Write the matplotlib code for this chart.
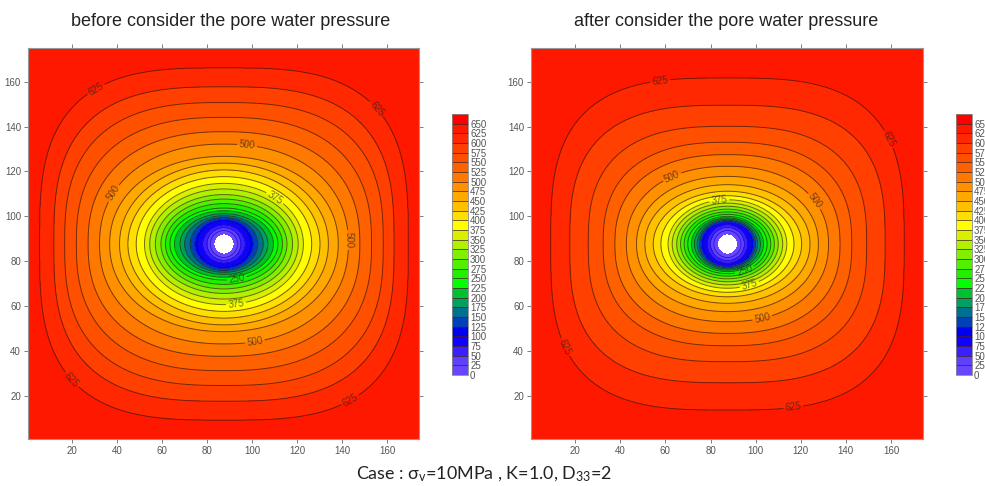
import numpy as np
import matplotlib
matplotlib.use('Agg')
import matplotlib.pyplot as plt

plt.rcParams['font.family'] = ['Liberation Sans', 'DejaVu Sans']

# contour levels and how far each one reaches from the hole (x / y semi axes)
levels = [0, 25, 50, 75, 100, 125, 150, 175, 200, 225, 250, 275, 300, 325, 350, 375,
          400, 425, 450, 475, 500, 525, 550, 575, 600, 625, 650]
before_ax = [4.5, 6, 7.5, 9.5, 11.3, 13, 15, 17.5, 19.5, 22, 24, 26, 28, 30.5, 33, 35.3,
             39, 42.7, 46.4, 50.8, 55.3, 60.4, 65.6, 70.8, 75.6, 81.9]
before_by = [4.5, 6, 7.3, 8.5, 10, 11, 11.8, 12.6, 13.5, 14.8, 16, 18, 20, 22, 24.5, 27,
             30, 33, 36, 39, 44.5, 50, 56.4, 63, 70, 78.4]
after_ax = [4.5, 6, 7.5, 9, 10.5, 11.7, 12.4, 13.4, 14.6, 16, 17.6, 19.2, 20.8, 22.5, 24.5, 26.3,
            29.5, 32.9, 36.6, 40.3, 44.8, 49.9, 55.1, 61.7, 69.9, 78.3]
after_by = [4.5, 6, 7.4, 8.6, 9.5, 10, 10.5, 11, 11.6, 12.3, 13.2, 14.3, 15.5, 16.8, 18.2, 19.7,
            21.5, 23.5, 26.4, 30.1, 34.6, 39.8, 45.3, 52.4, 61.8, 73.9]
# squareness of each contour, round near the hole and boxy near the edge
squareness = [2, 2, 2, 2, 2, 2, 2, 2, 2, 2, 2, 2, 2, 2, 2, 2,
              2, 2, 2.05, 2.12, 2.2, 2.35, 2.5, 2.7, 2.9, 3.1]

band_colors = ['#6a45ff', '#6040ff', '#3a20ff', '#1000ff', '#0000ee', '#0040b8', '#007090',
               '#00a060', '#00c030', '#00ff00', '#20f000', '#50f000', '#80f000', '#b0f000',
               '#d8f000', '#ffff00', '#ffdf00', '#ffc000', '#ffa800', '#ff9000', '#ff7800',
               '#ff6000', '#ff5000', '#ff4000', '#ff2800', '#ff1800']
top_color = '#ff0000'

center_x = 87.5
center_y = 87.7
ticks = [20, 40, 60, 80, 100, 120, 140, 160]

before_labels = {625: [(30.2, 157.3), (156, 148.4), (17.8, 25.3), (144.4, 17.3)],
                 500: [(97.8, 131.9), (38.2, 110.5), (143.1, 89.5), (101.3, 43.6)],
                 375: [(110.2, 108.3), (92.9, 61)],
                 250: [(93.3, 71.7)]}
after_labels = {625: [(57.7, 159), (156.9, 133), (16.9, 42.7), (116.6, 16)],
                500: [(63, 117.6), (125, 106), (102.9, 54.8)],
                375: [(83.8, 107.8), (97.5, 68.6)],
                250: [(95.3, 75.3)]}


def make_field(X, Y, ax_list, by_list):
    # g < 1 inside a contour, g > 1 outside it
    dx = np.abs(X - center_x)
    dy = np.abs(Y - center_y)
    g = np.array([(dx / a) ** n + (dy / b) ** n
                  for a, b, n in zip(ax_list, by_list, squareness)])
    lev = np.array(levels[:len(ax_list)], dtype=float)
    idx = (g >= 1).sum(axis=0)  # how many contours the point is outside of
    val = np.zeros_like(X)

    inner = idx == 0
    val[inner] = -25 * (1 - g[0][inner])
    outer = idx == len(lev)
    val[outer] = np.minimum(640, 625 + 15 * (g[-1][outer] - 1))

    mid = ~inner & ~outer
    i, j = np.nonzero(mid)
    k = idx[mid]
    g_low = np.log(g[k - 1, i, j])
    g_high = np.log(g[k, i, j])
    val[mid] = lev[k - 1] + 25 * g_low / (g_low - g_high)
    return val


def draw_panel(fig, pos, ax_list, by_list, labels, title, title_x):
    ax = fig.add_axes(pos)
    x = np.linspace(0.4, 174.2, 800)
    y = np.linspace(0.85, 175, 800)
    X, Y = np.meshgrid(x, y)
    Z = make_field(X, Y, ax_list, by_list)
    cf = ax.contourf(X, Y, Z, levels=levels, colors=band_colors + [top_color], extend='max')
    # lines inside the blue part hardly show
    low = [v for v in levels[:-1] if v < 150 and v > 0]
    plain = [v for v in levels[:-1] if v >= 150 and v not in labels]
    ax.contour(X, Y, Z, levels=low, colors='#2010c8', linewidths=0.5)
    line_style = dict(colors='#2a1a10', linewidths=0.7, alpha=0.65)
    ax.contour(X, Y, Z, levels=plain, **line_style)
    # clabel with a level subset breaks on manual spots, so each labelled level gets its own set
    for lev, where in labels.items():
        cs = ax.contour(X, Y, Z, levels=[lev], **line_style)
        ax.clabel(cs, manual=where, fmt='%d', fontsize=7, inline=True, inline_spacing=2, colors='#222222')
    ax.set_xticks(ticks)
    ax.set_yticks(ticks)
    ax.tick_params(top=True, right=True, direction='out', length=3, width=0.6, color='#666666',
                   labelsize=7, labelcolor='#555555', pad=2)
    for s in ax.spines.values():
        s.set_color('#999999')
        s.set_linewidth(0.8)
    fig.text(title_x / W, 1 - 21 / H, title, ha='center', va='center',
             fontsize=13, color='#222222')
    return cf


def draw_bar(fig, cf, pos):
    cax = fig.add_axes(pos)
    cb = fig.colorbar(cf, cax=cax, ticks=levels, spacing='uniform', drawedges=True,
                      extendrect=True, extendfrac=1 / 26)
    cb.ax.tick_params(length=0, labelsize=7, labelcolor='#555555', pad=1.5)
    cb.outline.set_edgecolor('#888888')
    cb.outline.set_linewidth(0.6)
    cb.dividers.set_color('#402020')
    cb.dividers.set_linewidth(0.5)


W, H = 985, 486
fig = plt.figure(figsize=(W / 100, H / 100), dpi=100)

cf1 = draw_panel(fig, [28 / W, 47 / H, 391 / W, 391 / H], before_ax, before_by, before_labels,
                 'before consider the pore water pressure', 231)
cf2 = draw_panel(fig, [531 / W, 47 / H, 392 / W, 391 / H], after_ax, after_by, after_labels,
                 'after consider the pore water pressure', 726.5)
draw_bar(fig, cf1, [452 / W, 111 / H, 16 / W, 261 / H])
draw_bar(fig, cf2, [956 / W, 111 / H, 16 / W, 261 / H])

plt.rcParams['mathtext.default'] = 'regular'
plt.rcParams['mathtext.fontset'] = 'custom'
plt.rcParams['mathtext.rm'] = 'Lato'
fig.text(484 / W, 1 - 474 / H, r'Case : $\sigma_v$=10MPa , K=1.0, D$_{33}$=2', ha='center', va='center',
         fontsize=12.9, color='#222222', family='Lato')

fig.savefig('out.png', dpi=100)
